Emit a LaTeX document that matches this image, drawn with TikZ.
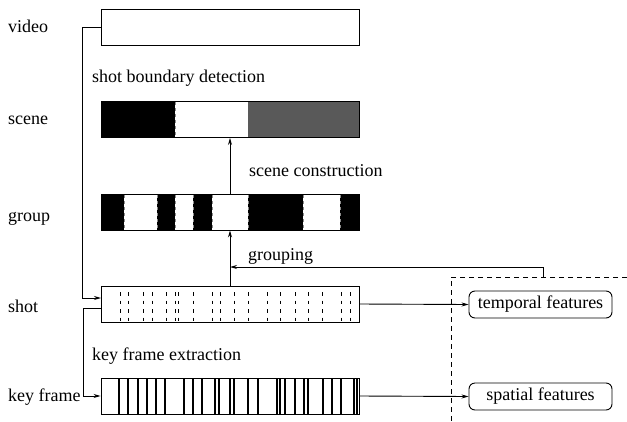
\documentclass[tikz,border=0pt]{standalone}
\usepackage{fontspec}
\setmainfont{Liberation Serif}
\usetikzlibrary{arrows.meta,positioning,calc}

\begin{document}
\begin{tikzpicture}[x=1pt,y=-1pt,
  font=\fontsize{18}{21}\selectfont,
  band/.style={
    rectangle, draw, line width=0.9pt,
    minimum width=258pt, minimum height=36pt, inner sep=0pt},
  feat/.style={
    rectangle, draw, rounded corners=6pt, line width=0.9pt,
    minimum width=143pt, minimum height=27pt, inner sep=0pt},
  lbl/.style={anchor=base west, inner sep=0pt},
  arr/.style={-{Stealth[length=7pt,width=4pt]}, line width=0.9pt},
  cut/.style={dash pattern=on 3.5pt off 5pt, line width=0.9pt},
  seam/.style={white!55!black, dash pattern=on 3pt off 3pt, line width=0.8pt}
]
  \useasboundingbox (0,0) rectangle (627,421);

  % scene and group segments
  \fill (101,101.5) rectangle (175,137.5);
  \fill[black!65] (248,101.5) rectangle (359,137.5);
  \foreach \a/\b in {101/124,157/175,193/212,248/303,340/359}
    \fill (\a,194) rectangle (\b,230);
  \foreach \x in {101,175}
    \draw[seam] (\x,102) -- (\x,137);
  \foreach \x in {101,124,157,175,193,212,248,303,340}
    \draw[seam] (\x,195) -- (\x,229);

  \node[band](video) at (230,27.5){};
  \node[band](scene) at (230,119.5){};
  \node[band](group) at (230,212){};
  \node[band](shot) at (230,304){};
  \node[band](keyframe) at (230,396){};

  % shot cuts and key frames
  \foreach \x in {120,128,143,152,166,175,178,193,212,220,234,248,267,280,295,308,322,341,350}
    \draw[cut] (\x,292) -- (\x,322);
  \foreach \x in {119,128,138,147,156,165,184,193,202,215,219,230,234,248,258,277,280,285,295,304,308,323,332,341,354,357}
    \draw[line width=1.2pt] (\x,378) -- (\x,414);

  \node[lbl](tvideo) at (8,32){video};
  \node[lbl](tscene) at (8,124){scene};
  \node[lbl](tgroup) at (8,221){group};
  \node[lbl](tshot) at (8,312){shot};
  \node[lbl](tkey) at (8,401){key frame};
  \node[lbl](tsbd) at (92,82){shot boundary detection};
  \node[lbl](tsc) at (249,176){scene construction};
  \node[lbl](tgrp) at (248,260){grouping};
  \node[lbl](tkfe) at (92,360){key frame extraction};

  \node[feat](temporal) at (540.5,304.5){temporal features};
  \node[feat](spatial) at (540.5,396.5){spatial features};

  \coordinate (shotin) at (101,298);
  \coordinate (shotout) at (101,308);
  \coordinate (gsrc) at (543,277);
  \coordinate (gdst) at (230,267);

  \draw[arr](video.west) -- ++(-18,0) |- (shotin);
  \draw[arr](shotout) -- ++(-18,0) |- (keyframe.west);
  \draw[arr](shot.north) -- (group.south);
  \draw[arr](group.north) -- (scene.south);
  \draw[arr](gsrc) |- (gdst);
  \draw[arr](shot.east) -- (temporal.west);
  \draw[arr](keyframe.east) -- (spatial.west);

  \draw[dash pattern=on 5pt off 4pt, line width=0.9pt] (627,277) -- (451,277) -- (451,421);
\end{tikzpicture}
\end{document}
